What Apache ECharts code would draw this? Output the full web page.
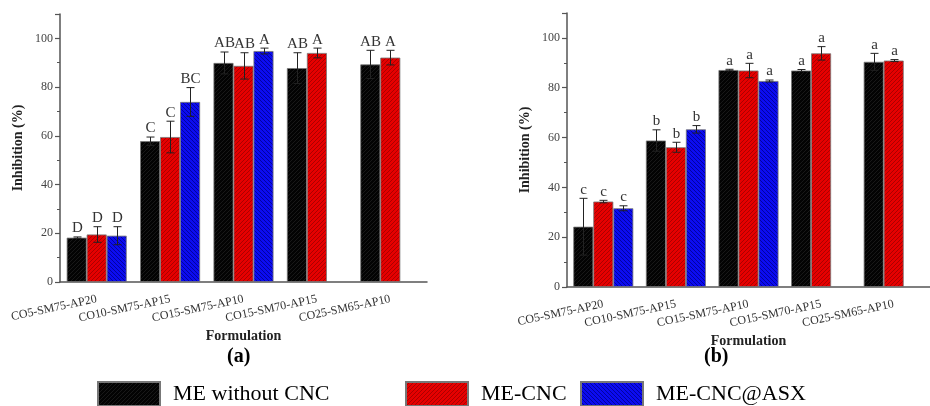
<!DOCTYPE html>
<html>
<head>
<meta charset="utf-8">
<script src="https://cdn.jsdelivr.net/npm/echarts@6/dist/echarts.min.js"></script>
<style>
  html, body { margin: 0; padding: 0; background: #fff; }
  #chart { width: 930px; height: 406px; }
</style>
</head>
<body>
<div id="chart"></div>
<script>
// categories shared by both panels
const categories = ['CO5-SM75-AP20', 'CO10-SM75-AP15', 'CO15-SM75-AP10', 'CO15-SM70-AP15', 'CO25-SM65-AP10'];
const seriesNames = ['ME without CNC', 'ME-CNC', 'ME-CNC@ASX'];
const yTicks = [0, 20, 40, 60, 80, 100];

// panel (a)
const meA = [18.2, 57.8, 89.9, 87.8, 89.3];
const cncA = [19.5, 59.5, 88.7, 94.0, 92.1];
const asxA = [19.0, 73.9, 94.8, null, null];
const meAErr = [0.3, 1.7, 4.5, 6.3, 5.8];
const cncAErr = [3.2, 6.5, 5.4, 2.0, 3.0];
const asxAErr = [3.7, 5.9, 1.2, null, null];
const meALetters = ['D', 'C', 'AB', 'AB', 'AB'];
const cncALetters = ['D', 'C', 'AB', 'A', 'A'];
const asxALetters = ['D', 'BC', 'A', null, null];

// panel (b)
const meB = [24.2, 58.8, 87.1, 86.9, 90.4];
const cncB = [34.3, 56.1, 86.9, 93.8, 90.9];
const asxB = [31.6, 63.3, 82.7, null, null];
const meBErr = [11.4, 4.3, 0.3, 0.4, 3.4];
const cncBErr = [0.5, 2.0, 2.9, 2.7, 0.4];
const asxBErr = [1.0, 1.5, 0.4, null, null];
const meBLetters = ['c', 'b', 'a', 'a', 'a'];
const cncBLetters = ['c', 'b', 'a', 'a', 'a'];
const asxBLetters = ['c', 'b', 'a', null, null];

const BAR_W = 20;
const SERIF = '"Liberation Serif", "DejaVu Serif", serif';

// hatched fills
function hatch(bg, line, dir) {
    const c = document.createElement('canvas');
    c.width = 4; c.height = 4;
    const ctx = c.getContext('2d');
    ctx.fillStyle = bg;
    ctx.fillRect(0, 0, 4, 4);
    ctx.strokeStyle = line;
    ctx.lineWidth = 0.8;
    ctx.beginPath();
    if (dir > 0) {
        ctx.moveTo(0, 4); ctx.lineTo(4, 0);
        ctx.moveTo(-1, 1); ctx.lineTo(1, -1);
        ctx.moveTo(3, 5); ctx.lineTo(5, 3);
    } else {
        ctx.moveTo(0, 0); ctx.lineTo(4, 4);
        ctx.moveTo(-1, 3); ctx.lineTo(1, 5);
        ctx.moveTo(3, -1); ctx.lineTo(5, 1);
    }
    ctx.stroke();
    return { image: c, repeat: 'repeat' };
}
const fills = [
    hatch('#030303', '#1e1e1e', 1),
    hatch('#e60000', '#9a0000', 1),
    hatch('#0c0cf0', '#00008c', -1)
];

function barSeries(idx, values, gridIdx) {
    return {
        type: 'bar',
        name: seriesNames[idx],
        xAxisIndex: gridIdx * 2,
        yAxisIndex: gridIdx,
        data: values,
        barWidth: BAR_W,
        barGap: '0%',
        itemStyle: { color: fills[idx], borderColor: '#777', borderWidth: 0.8 },
        z: 2
    };
}

function errorItems(groups) {
    const items = [];
    groups.forEach((g, k) => {
        g.values.forEach((v, i) => {
            if (v == null) return;
            items.push({ cat: i, v: v, e: g.err[i], k: k, letter: g.letters[i] });
        });
    });
    return items;
}

function errorSeries(items, gridIdx) {
    return {
        type: 'custom',
        xAxisIndex: gridIdx * 2,
        yAxisIndex: gridIdx,
        z: 5,
        silent: true,
        data: items.map(d => [d.cat, d.v, d.e, d.k]),
        encode: { x: 0, y: 1 },
        renderItem: function (params, api) {
            const d = items[params.dataIndex];
            const top = api.coord([d.cat, d.v + d.e]);
            const bot = api.coord([d.cat, d.v - d.e]);
            const x = Math.round(top[0] + (d.k - 1) * BAR_W) + 0.5;
            const cap = 4;
            const lineStyle = { stroke: '#222', lineWidth: 1 };
            return {
                type: 'group',
                children: [
                    { type: 'line', shape: { x1: x, y1: top[1], x2: x, y2: bot[1] }, style: lineStyle },
                    { type: 'line', shape: { x1: x - cap, y1: top[1], x2: x + cap, y2: top[1] }, style: lineStyle },
                    { type: 'line', shape: { x1: x - cap, y1: bot[1], x2: x + cap, y2: bot[1] }, style: lineStyle },
                    {
                        type: 'text',
                        style: {
                            text: d.letter || '',
                            x: x,
                            y: top[1] - 1,
                            align: 'center',
                            verticalAlign: 'bottom',
                            font: '15px ' + SERIF,
                            fill: '#333'
                        }
                    }
                ]
            };
        }
    };
}

const itemsA = errorItems([
    { values: meA, err: meAErr, letters: meALetters },
    { values: cncA, err: cncAErr, letters: cncALetters },
    { values: asxA, err: asxAErr, letters: asxALetters }
]);
const itemsB = errorItems([
    { values: meB, err: meBErr, letters: meBLetters },
    { values: cncB, err: cncBErr, letters: cncBLetters },
    { values: asxB, err: asxBErr, letters: asxBLetters }
]);

const axisColor = '#555';

function xAxes(gridIdx) {
    return [
        {
            type: 'category',
            gridIndex: gridIdx,
            data: categories,
            axisLine: { lineStyle: { color: axisColor, width: 1.5 } },
            axisTick: { alignWithLabel: true, length: 5, lineStyle: { color: axisColor, width: 1.2 } },
            axisLabel: {
                rotate: 12,
                margin: 17,
                interval: 0,
                fontFamily: SERIF,
                fontSize: 12,
                color: '#333'
            },
            name: 'Formulation',
            nameLocation: 'middle',
            nameGap: 45,
            nameTextStyle: { fontFamily: SERIF, fontWeight: 'bold', fontSize: 14, color: '#222' }
        },
        {
            type: 'category',
            gridIndex: gridIdx,
            data: categories,
            axisLine: { show: false },
            axisTick: { length: 4, lineStyle: { color: axisColor, width: 1.2 } },
            axisLabel: { show: false }
        }
    ];
}

function yAxis(gridIdx) {
    return {
        type: 'value',
        gridIndex: gridIdx,
        min: yTicks[0],
        max: 110,
        interval: yTicks[1] - yTicks[0],
        splitLine: { show: false },
        axisLine: { show: true, lineStyle: { color: axisColor, width: 1.5 } },
        axisTick: { show: true, length: 5, lineStyle: { color: axisColor, width: 1.2 } },
        minorTick: { show: true, splitNumber: 2, length: 3, lineStyle: { color: axisColor, width: 1 } },
        axisLabel: {
            showMaxLabel: false,
            fontFamily: SERIF,
            fontSize: 12,
            color: '#444',
            margin: 7
        },
        name: 'Inhibition (%)',
        nameLocation: 'middle',
        nameGap: 35,
        nameTextStyle: { fontFamily: SERIF, fontWeight: 'bold', fontSize: 14, color: '#222' }
    };
}

function legend(name, left) {
    return {
        data: [name],
        left: left,
        top: 381,
        padding: 0,
        icon: 'rect',
        itemWidth: 62,
        itemHeight: 24,
        itemGap: 0,
        selectedMode: false,
        textStyle: { fontFamily: SERIF, fontSize: 22, color: '#000', padding: [0, 0, 0, 8] }
    };
}

const chart = echarts.init(document.getElementById('chart'), null, { renderer: 'canvas' });

chart.setOption({
    backgroundColor: '#fff',
    animation: false,
    grid: [
        { left: 60, top: 14, width: 367, height: 268 },
        { left: 567, top: 13, width: 370, height: 274 }
    ],
    xAxis: xAxes(0).concat(xAxes(1)),
    yAxis: [yAxis(0), yAxis(1)],
    legend: [
        legend(seriesNames[0], 97),
        legend(seriesNames[1], 405),
        legend(seriesNames[2], 580)
    ],
    graphic: [
        { type: 'text', left: 227, top: 347, style: { text: '(a)', font: 'bold 20px ' + SERIF, fill: '#000' } },
        { type: 'text', left: 704, top: 347, style: { text: '(b)', font: 'bold 20px ' + SERIF, fill: '#000' } }
    ],
    series: [
        barSeries(0, meA, 0),
        barSeries(1, cncA, 0),
        barSeries(2, asxA, 0),
        barSeries(0, meB, 1),
        barSeries(1, cncB, 1),
        barSeries(2, asxB, 1),
        errorSeries(itemsA, 0),
        errorSeries(itemsB, 1)
    ]
});

window.addEventListener('resize', () => chart.resize());
</script>
</body>
</html>
